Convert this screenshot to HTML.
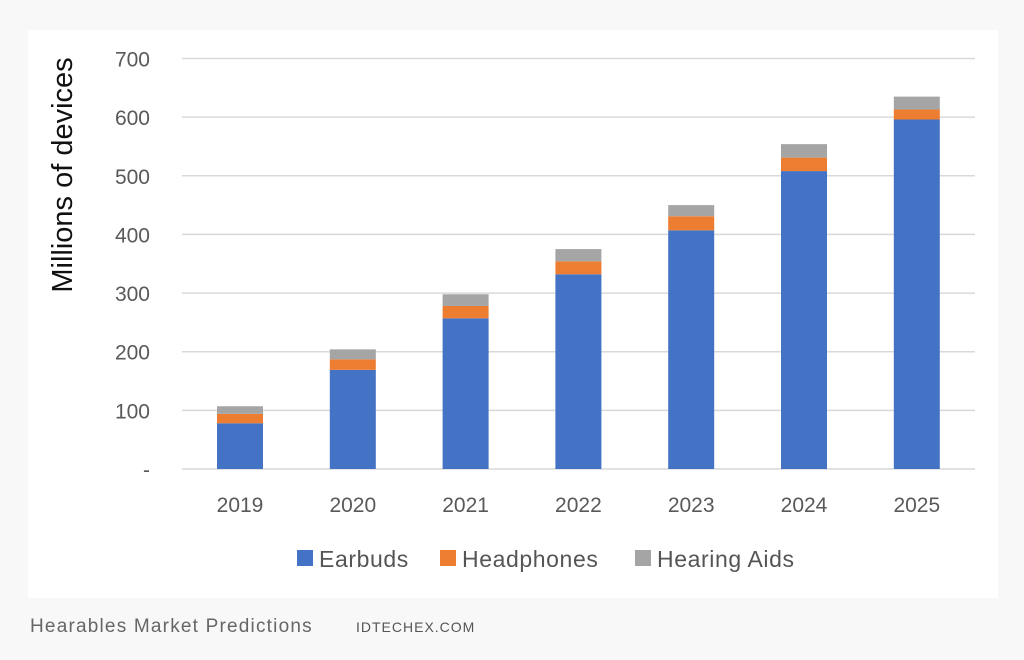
<!DOCTYPE html>
<html><head><meta charset="utf-8"><style>
body{margin:0;width:1024px;height:655px;background:#f8f8f8;overflow:hidden;font-family:"Liberation Sans",sans-serif}
</style></head><body>
<svg width="1024" height="655">
<rect x="28" y="30" width="970" height="568" fill="#fff"/>
<g id="grid"></g><g id="bars"></g><g id="labels"></g>
<text transform="translate(72,175) rotate(-90)" text-anchor="middle" font-size="29" fill="#111">Millions of devices</text>
<g font-size="23" fill="#555" letter-spacing="0.6">
<rect x="297" y="550" width="16" height="16" fill="#4472c4"/>
<text x="319" y="567">Earbuds</text>
<rect x="440" y="550" width="16" height="16" fill="#ed7d31"/>
<text x="462" y="567">Headphones</text>
<rect x="635" y="550" width="16" height="16" fill="#a5a5a5"/>
<text x="657" y="567">Hearing Aids</text>
</g>
<text x="30" y="632" font-size="19" fill="#666" letter-spacing="1.2">Hearables Market Predictions</text>
<text x="356" y="632" font-size="14" fill="#555" letter-spacing="1">IDTECHEX.COM</text>
</svg>
<script>
const categories=["2019","2020","2021","2022","2023","2024","2025"];
const earbuds=[78,169,257,332,407,508,596];
const headphones=[16,18,21,22,24,23,17];
const hearingAids=[13,17,20,21,19,23,22];
const yTicks=[0,100,200,300,400,500,600,700];
const yTickLabels=["-","100","200","300","400","500","600","700"];
const NS="http://www.w3.org/2000/svg";
const y=v=>469-v*(469-58.5)/700;
const x=i=>240+i*112.8;
function mk(tag,attrs,parent,txt){const e=document.createElementNS(NS,tag);for(const k in attrs)e.setAttribute(k,attrs[k]);if(txt!==undefined)e.textContent=txt;parent.appendChild(e);return e;}
const g=document.getElementById('grid'),b=document.getElementById('bars'),l=document.getElementById('labels');
yTicks.forEach((t,i)=>{
 const ln=mk('line',{x1:182,x2:975,y1:y(t),y2:y(t),stroke:'#d9d9d9','stroke-width':1.5},g);
 
 
 const tx=mk('text',{x:150,y:y(t)+8,'text-anchor':'end','font-size':21,fill:'#595959'},l,yTickLabels[i]);
 
 
});
const series=[[earbuds,'#4472c4','earbuds'],[headphones,'#ed7d31','headphones'],[hearingAids,'#a5a5a5','hearing-aids']];
categories.forEach((c,i)=>{
 let base=0;
 series.forEach(([arr,col,nm])=>{
  const v=arr[i];
  const r=mk('rect',{x:x(i)-23,width:46,y:y(base+v),height:y(base)-y(base+v),fill:col},b);
  
  
  base+=v;
 });
 const tx=mk('text',{x:x(i),y:512,'text-anchor':'middle','font-size':21,fill:'#595959'},l,c);
 
 
});
</script>
</body></html>
